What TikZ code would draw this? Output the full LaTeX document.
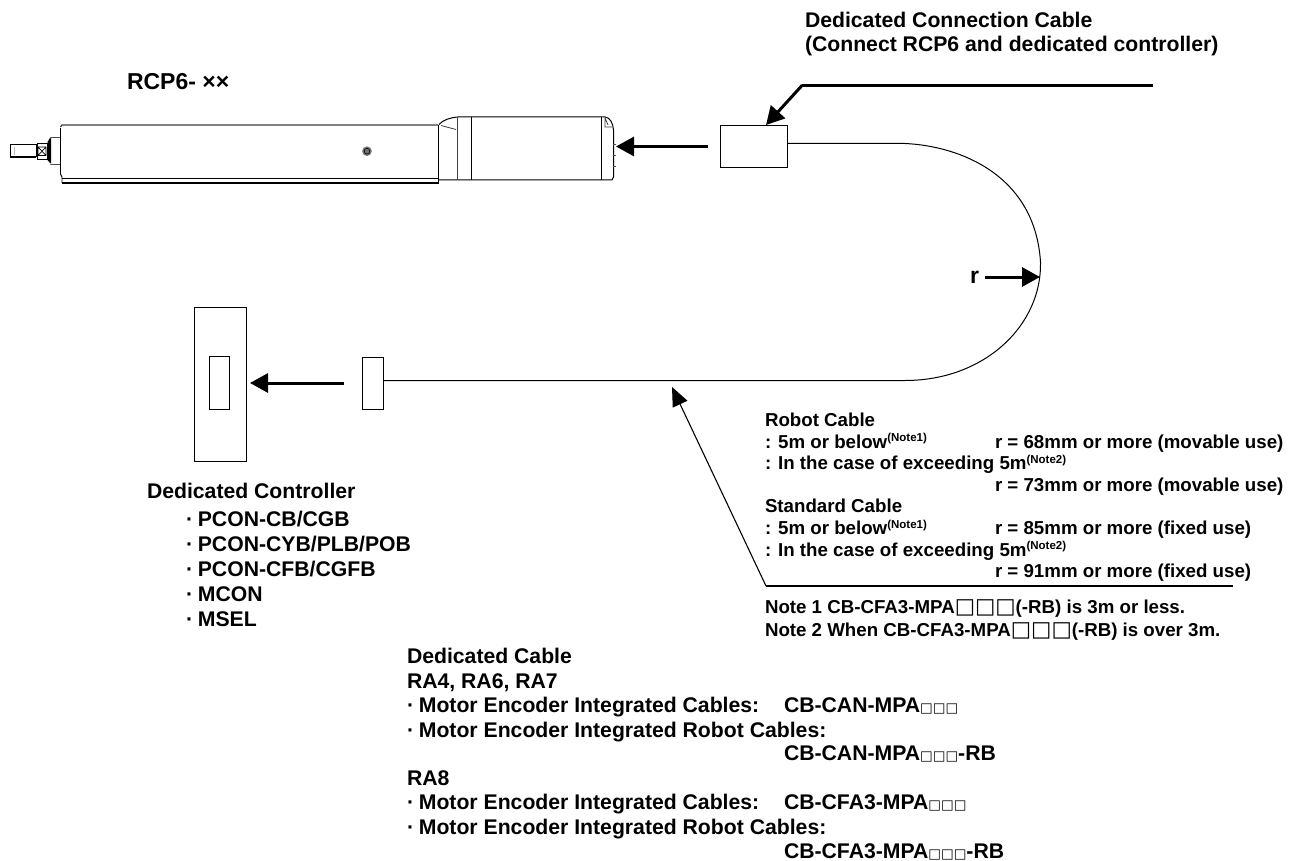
\documentclass[tikz,border=0pt]{standalone}
\usepackage{fontspec}
\setmainfont{Liberation Sans}
\newfontfamily\symfont{DejaVu Sans}
\usetikzlibrary{arrows.meta}
\newcommand{\smbox}{{\fontsize{13.4}{13.4}\mdseries\symfont □□□}}
\newcommand{\bigbox}{{\fontsize{21.5}{21.5}\bfseries\symfont □□□}}
\newcommand{\nt}[1]{\textsuperscript{\fontsize{11.5}{11.5}\selectfont #1}}
\newcommand{\bul}{·\kern4.8pt}
\tikzset{
  ln/.style={draw=black,line width=1pt},
  thin ln/.style={draw=black!75,line width=.8pt},
  heavy/.style={draw=black,line width=3pt,-{Triangle[length=18pt,width=19pt]}},
  leader/.style={draw=black,line width=1.1pt},
  lab/.style={anchor=base west,inner sep=0pt,outer sep=0pt,yshift=-1pt,font=\fontsize{21.2}{24}\selectfont\bfseries},
  lbs/.style={anchor=base west,inner sep=0pt,outer sep=0pt,yshift=-1pt,font=\fontsize{18.7}{22}\selectfont\bfseries},
  box/.style={draw=black,line width=1pt,fill=white,inner sep=0pt,outer sep=0pt,minimum width=0pt,minimum height=0pt,anchor=north west}
}
\begin{document}
\begin{tikzpicture}[x=1pt,y=-1pt]
\useasboundingbox (0,0) rectangle (1293,861);
\fill[white] (0,0) rectangle (1293,861);
% actuator
\draw[ln,line width=1.2pt] (36,144.5) -- (10.5,144.5) -- (10.5,157) -- (36,157);
\draw[black!25] (14,147) -- (14,155);
\draw[ln] (36,144.5) -- (36,157);
\draw[ln] (37.5,143.5) rectangle (47,159.5);
\draw[ln,line width=.7pt] (38,147) -- (46,155.5) (46,147) -- (38,155.5) (38,147) rectangle (46,155.5);
\fill[black] (47.5,142) -- (50,138) -- (51,138) -- (51,163) -- (50,163) -- (47.5,160) -- cycle;
\draw[draw=black!70,line width=.9pt] (50,138) -- (52,137.5) -- (60,137.5) (50,164) -- (52,164.5) -- (60,164.5);
\draw[ln,line width=1.8pt] (60.5,128) -- (60.5,174);
\draw[ln,line width=.9pt] (60.5,174) -- (62,177) -- (62,183);
\draw[draw=black!75,line width=1.2pt] (60.5,127) -- (62,125) -- (438,125);
\draw[ln,line width=1pt] (62,178.5) -- (438,178.5);
\draw[ln,line width=2pt] (62,183.5) -- (438,183.5);
\draw[ln] (438.5,125) -- (438.5,184);
\draw[ln] (439,124.5) .. controls (443,120) and (450,117.5) .. (458,117) -- (605,117) .. controls (610,117.5) and (613,123) .. (613.5,130) -- (613.5,177) -- (612,180) -- (439,180);
\draw[thin ln] (457,117) -- (457,180);
\draw[ln] (471.5,117) -- (471.5,180);
\draw[ln] (601.5,117) -- (601.5,180);
\draw[thin ln] (441,125.5) -- (456,129.5);
\draw[thin ln] (605,118) -- (605,127) -- (612,127) (605,118) -- (608,125);
\draw[black!70,line width=.7pt] (613,144.5) -- (616,144.5) (613,155.5) -- (616,155.5) (613,166) -- (616,166);
\fill[black!55] (367,151.2) circle (4.8);
\draw[black,line width=.6pt] (367,151.2) circle (2.8);
% connector and cable
\node[box,minimum width=67pt,minimum height=42pt] (conA) at (720,126) {};
\node[box,minimum width=21pt,minimum height=52pt] (conB) at (362,357) {};
\node[box,minimum width=52.5pt,minimum height=154pt] (ctrl) at (194,307) {};
\node[box,minimum width=19.5pt,minimum height=53pt] (port) at (209.5,356) {};
\coordinate (bend) at (1040.5,262);
\draw[ln,line width=1pt] (conA.east |- 0,143.5) -- (905,143.5) .. controls (960,146) and (1035,175) .. (bend)
  .. controls (1042,325) and (985,380.5) .. (905,380.5) -- (conB.east |- 0,380.5);
% arrows
\coordinate (a1s) at (708,146.5);
\coordinate (a1e) at (616,146.5);
\draw[heavy] (a1s) -- (a1e);
\coordinate (a2s) at (344,383);
\coordinate (a2e) at (250,383);
\draw[heavy] (a2s) -- (a2e);
\coordinate (rs) at (985,277);
\coordinate (re) at (1040,277);
\draw[heavy] (rs) -- (re);
% leaders
\coordinate (l1a) at (1153,85.5);
\coordinate (l1b) at (802,85.5);
\coordinate (l1c) at (766,125);
\draw[draw=black,line width=3pt] (l1a) -- (l1b);
\draw[heavy,line cap=round] (l1b) -- (l1c);
\coordinate (l2a) at (1233,586);
\coordinate (l2b) at (766,586);
\coordinate (l2c) at (672,387);
\draw[draw=black,line width=1.8pt] (l2a) -- (l2b);
\draw[leader,-{Triangle[length=19pt,width=16pt]}] (l2b) -- (l2c);
% labels
\node[lab,font=\fontsize{23}{24}\selectfont\bfseries] (t1) at (127,89) {RCP6- ××};
\node[lab] (t2) at (805,27) {Dedicated Connection Cable};
\node[lab] (t3) at (805,51) {(Connect RCP6 and dedicated controller)};
\node[lab,font=\fontsize{23}{24}\selectfont\bfseries] (tr) at (970,282) {r};
\node[lab] (c0) at (147,497) {Dedicated Controller};
\node[lab] (c1) at (186,525) {\bul PCON-CB/CGB};
\node[lab] (c2) at (186,550) {\bul PCON-CYB/PLB/POB};
\node[lab] (c3) at (186,575) {\bul PCON-CFB/CGFB};
\node[lab] (c4) at (186,600) {\bul MCON};
\node[lab] (c5) at (186,625) {\bul MSEL};
\node[lbs] (r0) at (765,425.7) {Robot Cable};
\node[lbs] (r1) at (765,447) {: 5m or below\nt{(Note1)}};
\node[lbs] (r1b) at (995,447) {r = 68mm or more (movable use)};
\node[lbs] (r2) at (765,468.5) {: In the case of exceeding 5m\nt{(Note2)}};
\node[lbs] (r2b) at (995,490.5) {r = 73mm or more (movable use)};
\node[lbs] (s0) at (765,511.7) {Standard Cable};
\node[lbs] (s1) at (765,533.3) {: 5m or below\nt{(Note1)}};
\node[lbs] (s1b) at (995,533.3) {r = 85mm or more (fixed use)};
\node[lbs] (s2) at (765,555) {: In the case of exceeding 5m\nt{(Note2)}};
\node[lbs] (s2b) at (995,576.7) {r = 91mm or more (fixed use)};
\node[lbs] (n1) at (765,612) {Note 1 CB-CFA3-MPA\bigbox(-RB) is 3m or less.};
\node[lbs] (n2) at (765,635.5) {Note 2 When CB-CFA3-MPA\bigbox(-RB) is over 3m.};
\node[lab] (d0) at (407,662) {Dedicated Cable};
\node[lab] (d1) at (407,687) {RA4, RA6, RA7};
\node[lab] (d2) at (407,711) {\bul Motor Encoder Integrated Cables:};
\node[lab] (d2b) at (784,711) {CB-CAN-MPA\smbox};
\node[lab] (d3) at (407,736) {\bul Motor Encoder Integrated Robot Cables:};
\node[lab] (d3b) at (784,759.5) {CB-CAN-MPA\smbox-RB};
\node[lab] (d4) at (407,784) {RA8};
\node[lab] (d5) at (407,808.5) {\bul Motor Encoder Integrated Cables:};
\node[lab] (d5b) at (784,808.5) {CB-CFA3-MPA\smbox};
\node[lab] (d6) at (407,833) {\bul Motor Encoder Integrated Robot Cables:};
\node[lab] (d6b) at (784,857) {CB-CFA3-MPA\smbox-RB};
\end{tikzpicture}
\end{document}
